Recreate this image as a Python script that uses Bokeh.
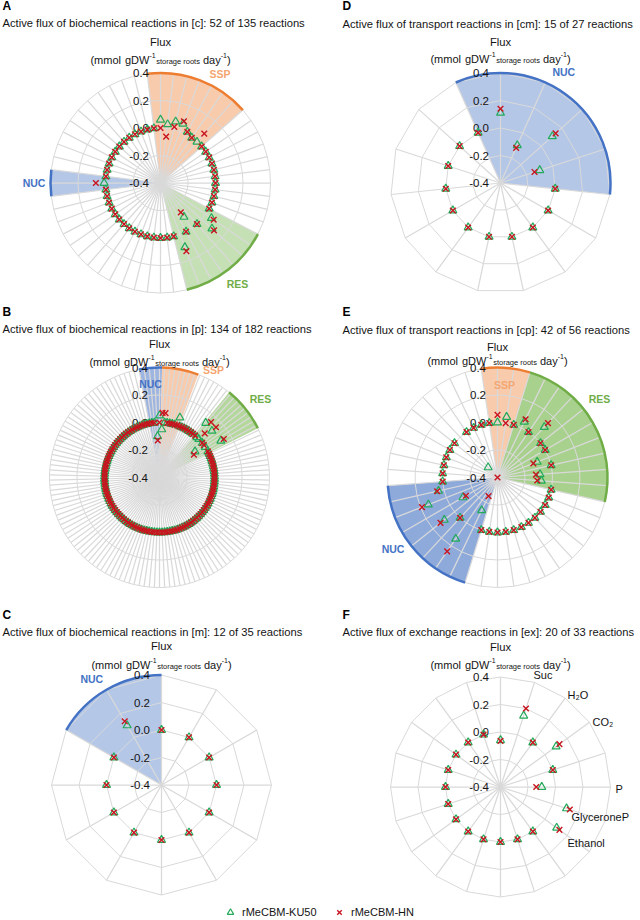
import math
from bokeh.plotting import figure
from bokeh.layouts import column, row
from bokeh.models import Range1d, Legend, LegendItem
from bokeh.core.properties import value
from bokeh.embed import file_html
from bokeh.resources import INLINE

# ---------------------------------------------------------------- data
TICK_VALUES = [-0.4, -0.2, 0.0, 0.2, 0.4]
TICK_LABELS = ["-0.4", "-0.2", "0.0", "0.2", "0.4"]
SERIES_NAMES = ["rMeCBM-KU50", "rMeCBM-HN"]

# A: biochemical reactions in [c] (52 active reactions)
A_KU50 = [0.06, 0.03, 0.06, 0.06, 0.02, 0, 0, 0, 0, 0,
          0, 0, 0, 0, 0, 0, 0, 0, 0.05, 0.10,
          0, -0.10, 0, 0.10, 0, 0, 0, 0, 0, 0,
          0, 0, 0, 0, 0, 0, 0, 0, 0, 0.01,
          0, 0, 0, 0, 0, 0, 0, 0, 0, 0,
          0, 0]
A_HN = [0, -0.06, 0.02, 0.08, 0.02, 0, 0.08, 0, 0, 0,
        0, 0, 0, 0, 0, 0, 0, 0, 0.07, 0.12,
        0, -0.14, 0, 0.13, 0, 0, 0, 0, 0, 0,
        0, 0, 0, 0, 0, 0, 0, 0, 0, 0.07,
        0, 0, 0, 0, 0, 0, 0, 0, 0, 0,
        0, 0]
A_GROUPS = [("SSP", -1, 7), ("NUC", 38, 40), ("RES", 17, 24)]

# B: biochemical reactions in [p] (134 active reactions)
B_KU50 = [0.05, -0.05, 0, 0, 0, 0, 0, 0.06, 0, 0,
          0, 0, 0, 0, 0, 0.12, 0, 0, 0.11, 0,
          -0.08, 0, 0.12, 0, 0, 0, 0, 0, 0, 0,
          0, 0, 0, 0, 0, 0, 0, 0, 0, 0,
          0, 0, 0, 0, 0, 0, 0, 0, 0, 0,
          0, 0, 0, 0, 0, 0, 0, 0, 0, 0,
          0, 0, 0, 0, 0, 0, 0, 0, 0, 0,
          0, 0, 0, 0, 0, 0, 0, 0, 0, 0,
          0, 0, 0, 0, 0, 0, 0, 0, 0, 0,
          0, 0, 0, 0, 0, 0, 0, 0, 0, 0,
          0, 0, 0, 0, 0, 0, 0, 0, 0, 0,
          0, 0, 0, 0, 0, 0, 0, 0, 0, 0,
          0, 0, 0, 0, 0, 0, 0, 0, 0, 0,
          0, 0, 0, -0.10]
B_HN = [0, 0.07, 0.07, 0, 0, 0, 0, 0, 0, 0,
        0, 0, 0, 0, 0, 0, 0.15, 0.06, 0.15, 0,
        0, -0.10, 0.145, 0, 0, 0, 0, 0, 0, 0,
        0, 0, 0, 0, 0, 0, 0, 0, 0, 0,
        0, 0, 0, 0, 0, 0, 0, 0, 0, 0,
        0, 0, 0, 0, 0, 0, 0, 0, 0, 0,
        0, 0, 0, 0, 0, 0, 0, 0, 0, 0,
        0, 0, 0, 0, 0, 0, 0, 0, 0, 0,
        0, 0, 0, 0, 0, 0, 0, 0, 0, 0,
        0, 0, 0, 0, 0, 0, 0, 0, 0, 0,
        0, 0, 0, 0, 0, 0, 0, 0, 0, 0,
        0, 0, 0, 0, 0, 0, 0, 0, 0, 0,
        0, 0, 0, 0, 0, 0, 0, 0, 0, 0,
        0, 0, 0, -0.13]
B_GROUPS = [("NUC", -4, 0.5), ("SSP", 0.5, 7.7), ("RES", 14.6, 23.6)]

# C: biochemical reactions in [m] (12 active reactions)
C_KU50 = [0, 0, 0, 0, 0, 0, 0, 0, 0, 0, 0, 0.10]
C_HN = [0, 0, 0, 0, 0, 0, 0, 0, 0, 0, 0, 0.135]
C_GROUPS = [("NUC", 10, 12)]

# D: transport reactions in [cm] (15 active reactions)
D_KU50 = [0.11, -0.10, 0.107, -0.10, 0, 0, 0, 0, 0, 0, 0, 0, 0, 0, 0]
D_HN = [0.14, -0.12, 0.14, -0.14, 0, 0, 0, 0, 0, 0, 0, 0, 0, 0, 0]
D_GROUPS = [("NUC", -1, 4)]

# E: transport reactions in [cp] (42 active reactions)
E_KU50 = [0, 0.045, 0, 0.05, 0, 0.10, 0, 0, -0.09, 0,
          -0.09, -0.08, 0, 0, 0, 0, 0, 0, 0, 0,
          0, 0, 0, 0, -0.135, 0.14, 0, 0.095, -0.11, 0.14,
          0.04, 0, 0, 0, 0, 0, 0, -0.30, 0, 0,
          0, 0]
E_HN = [0.055, 0, 0, 0.07, 0, 0.14, 0, 0, -0.12, 0,
        -0.12, -0.11, 0, 0, 0, 0, 0, 0, 0, 0,
        0, 0, 0, 0, -0.25, 0.25, 0, 0.13, -0.135, 0.19,
        0.05, 0, 0, 0, 0, 0, 0, -0.40, 0, 0,
        0, 0]
E_GROUPS = [("SSP", -1, 2), ("RES", 2, 12), ("NUC", 23, 31)]

# F: exchange reactions in [ex] (20 active reactions)
F_KU50 = [-0.06, 0.145, 0, 0.10, 0, -0.10, 0.105, 0.105, 0, 0,
          0, 0, 0, 0, 0, 0, 0, 0, 0, 0]
F_HN = [-0.065, 0.20, 0, 0.13, 0, -0.14, 0.13, 0.13, 0, 0,
        0, 0, 0, 0, 0, 0, 0, 0, 0, 0]
F_CATEGORIES = ["", "Suc", "H\u2082O", "CO\u2082", "", "P", "GlyceroneP", "Ethanol", "", "",
                "", "", "", "", "", "", "", "", "", ""]

# ---------------------------------------------------------------- style
FONT = "Liberation Sans"
PX = 137.5                     # pixels per flux unit (radius 110 px for 0.8)
RMIN = TICK_VALUES[0]
GRID = "#d9d9d9"
KU_COLOR = "#22aa5a"
HN_COLOR = "#c8141e"
TXT = "#141414"
LINE = {"SSP": "#ed7d31", "NUC": "#4472c4", "RES": "#70ad47"}
LABEL_COLOR = {"SSP": "#f4a672", "NUC": "#4472c4", "RES": "#70ad47"}
FILL_LIGHT = {"SSP": "#f8cbad", "NUC": "#b4c7e7", "RES": "#c5e0b4"}
FILL_DARK = {"SSP": "#f8cbad", "NUC": "#8eaadb", "RES": "#a9d18e"}
FILL_B = {"SSP": "#f8cbad", "NUC": "#9db5e0", "RES": "#b4d89b"}

AW = {' ': 278, '(': 333, ')': 333, '-': 333, '1': 556, 'm': 833, 'o': 556, 'l': 222,
      'g': 556, 'D': 722, 'W': 944, 's': 500, 't': 278, 'r': 333, 'a': 556, 'e': 556,
      'd': 556, 'y': 500}


def tw(s, size):
    return sum(AW.get(c, 556) for c in s) * size / 1000.0


def build_panel(W, H, cx, cy, ku, hn, groups, fills, group_pos, letter, title,
                rows_y, title_x, cats=None, cat_pos=None):
    S = PX
    p = figure(width=W, height=H, x_range=Range1d(-cx / S, (W - cx) / S),
               y_range=Range1d(-(H - cy) / S, cy / S), output_backend="svg",
               toolbar_location=None, min_border=0, x_axis_type=None, y_axis_type=None)
    p.outline_line_color = None
    p.background_fill_color = "white"
    p.border_fill_color = "white"
    N = len(ku)
    span = TICK_VALUES[-1] - RMIN
    ang = [2 * math.pi * i / N for i in range(N)]

    def txt(dx, dy, s, size, align="left", baseline="middle", color=TXT, style="normal"):
        p.text(x=[dx / S], y=[-dy / S], text=[s], text_font=value(FONT),
               text_font_size="%.1fpx" % size, text_align=align, text_baseline=baseline,
               text_color=color, text_font_style=style)

    # group sectors
    for name, a, b in groups:
        ta, tb = 2 * math.pi * a / N, 2 * math.pi * b / N
        p.wedge(x=[0], y=[0], radius=span, start_angle=math.pi / 2 - tb,
                end_angle=math.pi / 2 - ta, fill_color=fills[name], line_color=None)
    # grid
    closed = ang + ang[:1]
    rings = [v - RMIN for v in TICK_VALUES[1:]]
    p.multi_line(xs=[[r * math.sin(t) for t in closed] for r in rings],
                 ys=[[r * math.cos(t) for t in closed] for r in rings],
                 line_color=GRID, line_width=1)
    p.multi_line(xs=[[0, span * math.sin(t)] for t in ang],
                 ys=[[0, span * math.cos(t)] for t in ang],
                 line_color=GRID, line_width=1.25)
    for name, a, b in groups:
        ta, tb = 2 * math.pi * a / N, 2 * math.pi * b / N
        p.arc(x=[0], y=[0], radius=span, start_angle=math.pi / 2 - tb,
              end_angle=math.pi / 2 - ta, line_color=LINE[name], line_width=2.5)
    # radial tick labels
    p.text(x=[-11.5 / S] * len(TICK_VALUES), y=[v - RMIN for v in TICK_VALUES],
           text=TICK_LABELS, text_font=value(FONT), text_font_size="11.5px",
           text_align="right", text_baseline="middle", text_color=TXT)
    # group labels
    for name, (gx, gy) in group_pos.items():
        txt(gx, gy, name, 10.5, align="center", color=LABEL_COLOR[name], style="bold")
    # category labels
    if cats:
        for lab in cats:
            if lab:
                gx, gy = cat_pos[lab]
                txt(gx, gy, lab, 11, align="left")
    # titles
    ly, ty, fy, uy = [v - cy for v in rows_y]
    tx = title_x - cx
    txt(tx, ly, letter, 12, style="bold", color="#000000")
    txt(tx, ty, title, 11.2)
    txt(0, fy, "Flux", 11.2, align="center")
    # unit line: (pieces, size, baseline shift, gap after)
    pieces = [("(mmol", 11, 0, 4), ("gDW", 11, 0, 0), ("-1", 7, -4.5, 0.5),
              ("storage roots", 7.5, 2.2, 3), ("day", 11, 0, 0), ("-1", 7, -4.5, 0),
              (")", 11, 0, 0)]
    total = sum(tw(s, z) + g for s, z, _, g in pieces)
    x0 = -total / 2
    base = uy + 4
    for s, z, off, gap in pieces:
        txt(x0, base + off, s, z, baseline="alphabetic")
        x0 += tw(s, z) + gap
    # points
    rk = [v - RMIN for v in ku]
    rh = [v - RMIN for v in hn]
    r1 = p.scatter(x=[r * math.sin(t) for r, t in zip(rk, ang)],
                   y=[r * math.cos(t) for r, t in zip(rk, ang)],
                   marker="triangle", size=8, fill_color=None,
                   line_color=KU_COLOR, line_width=1.2)
    r2 = p.scatter(x=[r * math.sin(t) for r, t in zip(rh, ang)],
                   y=[r * math.cos(t) for r, t in zip(rh, ang)],
                   marker="x", size=8, line_color=HN_COLOR, line_width=1.4)
    return p, r1, r2


WL, WR = 320, 320
H1, H2, H3 = 294, 296, 330

pA, _, _ = build_panel(WL, H1, 160, 182.5, A_KU50, A_HN, A_GROUPS, FILL_LIGHT,
                       {"SSP": (59.5, -109.5), "NUC": (-126.5, -0.5), "RES": (77, 100.5)},
                       "A", "Active flux of biochemical reactions in [c]: 52 of 135 reactions",
                       (5, 22.5, 41, 55), 2)
pD, _, _ = build_panel(WR, H1, 180, 182.5, D_KU50, D_HN, D_GROUPS, FILL_LIGHT,
                       {"NUC": (63.3, -111)},
                       "D", "Active flux of transport reactions in [cm]: 15 of 27 reactions",
                       (5, 23, 41, 54), 22)
pB, _, _ = build_panel(WL, H2, 159, 183, B_KU50, B_HN, B_GROUPS, FILL_B,
                       {"NUC": (-9, -94), "SSP": (54, -108), "RES": (101, -79)},
                       "B", "Active flux of biochemical reactions in [p]: 134 of 182 reactions",
                       (17.5, 34, 49.5, 63), 2)
pE, _, _ = build_panel(WR, H2, 177, 183, E_KU50, E_HN, E_GROUPS, FILL_DARK,
                       {"SSP": (7, -93), "RES": (102, -79), "NUC": (-104.5, 71)},
                       "E", "Active flux of transport reactions in [cp]: 42 of 56 reactions",
                       (17.5, 35.5, 52.5, 62), 22)
pC, kuC, _ = build_panel(WL, H3, 161, 194.5, C_KU50, C_HN, C_GROUPS, FILL_LIGHT,
                         {"NUC": (-69.7, -106)},
                         "C", "Active flux of biochemical reactions in [m]: 12 of 35 reactions",
                         (24, 41, 55.5, 70), 2)
pF, _, hnF = build_panel(WR, H3, 180, 196.5, F_KU50, F_HN, [], FILL_LIGHT, {},
                         "F", "Active flux of exchange reactions in [ex]: 20 of 33 reactions",
                         (24, 41, 56.5, 70), 22, F_CATEGORIES,
                         {"Suc": (33, -112), "H\u2082O": (67, -92), "CO\u2082": (92, -65),
                          "P": (115, 2), "GlyceroneP": (71, 29.5), "Ethanol": (67, 55.5)})

for fig, rend, name, loc in [(pC, kuC, SERIES_NAMES[0], (222, 0)),
                             (pF, hnF, SERIES_NAMES[1], (11, 0))]:
    leg = Legend(items=[LegendItem(label=name, renderers=[rend])], location=loc,
                 orientation="horizontal", glyph_width=16, glyph_height=16,
                 label_standoff=4, padding=0, margin=0, spacing=0,
                 border_line_color=None, background_fill_alpha=0,
                 label_text_font=FONT, label_text_font_size="11px",
                 label_text_color=TXT, label_height=16)
    fig.add_layout(leg)

layout = column(row(pA, pD), row(pB, pE), row(pC, pF))
open("out.html", "w").write(file_html(layout, INLINE))
